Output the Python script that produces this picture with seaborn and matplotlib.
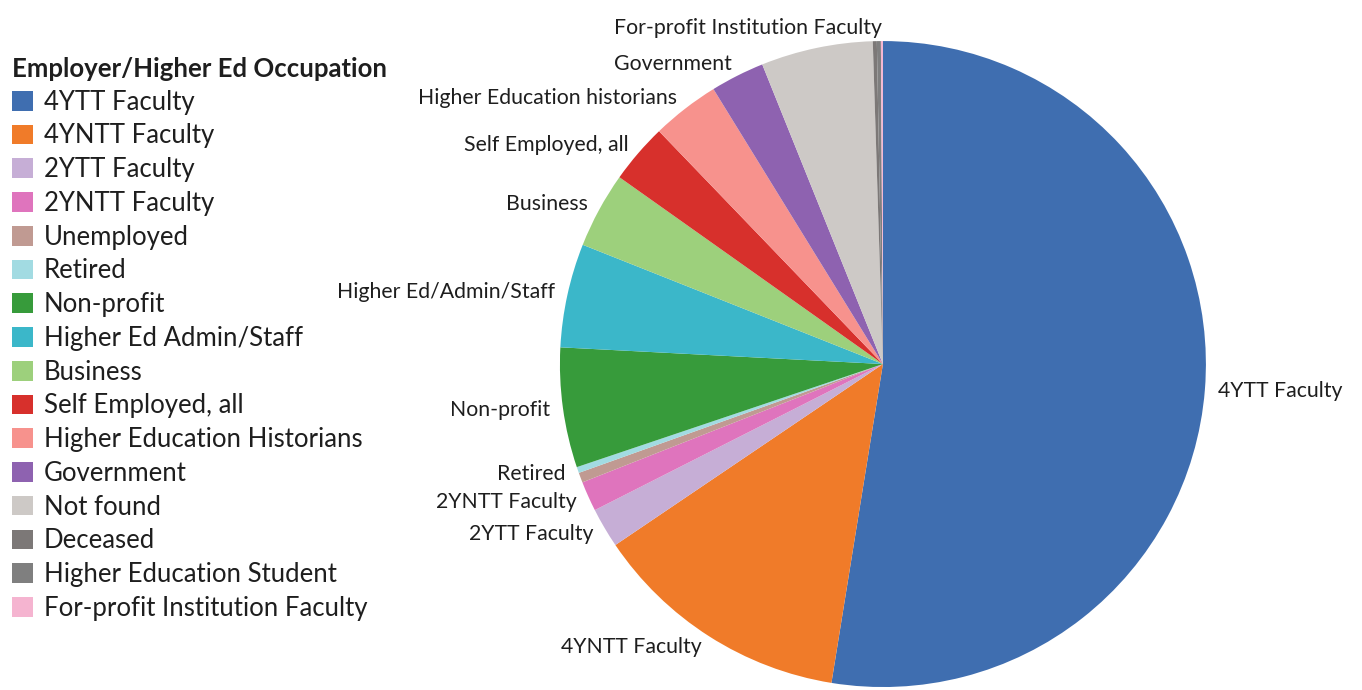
import matplotlib
matplotlib.use("Agg")
import matplotlib.pyplot as plt
from matplotlib.patches import Patch
import seaborn as sns

# ---- data ----
categories = ["4YTT Faculty", "4YNTT Faculty", "2YTT Faculty", "2YNTT Faculty",
              "Unemployed", "Retired", "Non-profit", "Higher Ed Admin/Staff",
              "Business", "Self Employed, all", "Higher Education Historians",
              "Government", "Not found", "Deceased", "Higher Education Student",
              "For-profit Institution Faculty"]
values = [526, 130, 20, 15, 5, 3, 60, 52, 38, 30, 34, 27, 56, 2, 2, 1]
slice_labels = ["4YTT Faculty", "4YNTT Faculty", "2YTT Faculty", "2YNTT Faculty",
                "", "Retired", "Non-profit", "Higher Ed/Admin/Staff",
                "Business", "Self Employed, all", "Higher Education historians",
                "Government", "", "", "", "For-profit Institution Faculty"]
colors = ["#3f6eb0", "#f07b29", "#c6aed6", "#df74bd", "#c09a92", "#a2dbe2",
          "#379b3b", "#3bb7c9", "#9dd07c", "#d7302c", "#f7928d", "#8e62b0",
          "#cdc9c6", "#7c7877", "#7f7f7f", "#f5b4d0"]
legend_title = "Employer/Higher Ed Occupation"

sns.set_theme(style="white")
plt.rcParams["font.family"] = ["Lato", "DejaVu Sans"]
text_color = "#1e1e1e"

palette = sns.color_palette(colors)

fig = plt.figure(figsize=(13.62, 6.9), dpi=100)
ax = fig.add_axes([0.4111, 0.0043, 0.4743, 0.9362])
wedges, texts = ax.pie(values, labels=slice_labels, colors=palette,
                       startangle=90, counterclock=False, radius=1.0,
                       labeldistance=1.04,
                       wedgeprops=dict(linewidth=0),
                       textprops=dict(fontsize=15.3, color=text_color))
ax.set_xlim(-1, 1)
ax.set_ylim(-1, 1)
ax.set_aspect("equal")
ax.axis("off")

handles = [Patch(facecolor=c, edgecolor="none") for c in palette]
leg = fig.legend(handles, categories, loc="upper left",
                 bbox_to_anchor=(0.009, 1 - 57 / 690), frameon=False,
                 borderaxespad=0, borderpad=0, fontsize=18.5,
                 handlelength=0.8, handleheight=0.8, handletextpad=0.43,
                 labelspacing=0.34, alignment="left",
                 title=legend_title,
                 title_fontproperties=dict(weight="bold", size=18.5))
for t in leg.get_texts():
    t.set_color(text_color)
leg.get_title().set_color(text_color)

fig.savefig("out.png", dpi=100, facecolor="white")
